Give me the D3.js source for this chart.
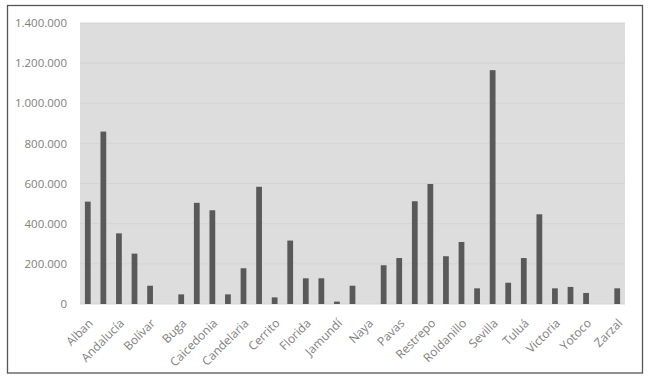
<!DOCTYPE html>
<html><head><meta charset="utf-8">
<script src="https://cdn.jsdelivr.net/npm/d3@7"></script>
<style>
html,body{margin:0;padding:0;background:#fff;}
svg{display:block;}
</style></head>
<body>
<script>
const categories = ["Alban","Alcalá","Andalucía","Ansermanuevo","Bolívar","Buenaventura","Buga","Bugalagrande","Caicedonia","Cali","Candelaria","Cartago","Cerrito","Dagua","Florida","Ginebra","Jamundí","La Cumbre","Naya","Palmira","Pavas","Pradera","Restrepo","Riofrío","Roldanillo","San Pedro","Sevilla","Trujillo","Tuluá","Versalles","Victoria","Vijes","Yotoco","Yumbo","Zarzal"];
const values = [510000,859000,352000,251000,91000,0,48000,504000,467000,48000,178000,584000,33000,316000,128000,128000,12000,91000,0,193000,229000,512000,598000,238000,309000,78000,1165000,106000,229000,447000,78000,85000,55000,0,78000];
const yTicks = [0,200000,400000,600000,800000,1000000,1200000,1400000];

(function(){
const W=650,H=382;
const svg=d3.select("body").append("svg").attr("width",W).attr("height",H);
svg.append("rect").attr("x",7.5).attr("y",5.5).attr("width",635).attr("height",367.5)
  .attr("fill","#fff").attr("stroke","#5a5452").attr("stroke-width",1.3);

const pL=80,pR=625,pT=23,pB=304;
const x=d3.scaleBand().domain(categories).range([pL,pR]).paddingInner(0.63).paddingOuter(0.315);
const y=d3.scaleLinear().domain([0,1400000]).range([pB,pT]);

svg.append("rect").attr("x",pL).attr("y",pT).attr("width",pR-pL).attr("height",pB-pT).attr("fill","#dcdddc");

svg.append("g").selectAll("line").data(yTicks).join("line")
  .attr("x1",pL).attr("x2",pR).attr("y1",d=>y(d)).attr("y2",d=>y(d))
  .attr("stroke","#d3d4d3").attr("stroke-width",1);

const fmt=d=>d3.format(",")(d).replace(/,/g,".");
const yAxis=svg.append("g").attr("transform",`translate(${pL-13},0)`)
  .call(d3.axisLeft(y).tickValues(yTicks).tickFormat(fmt).tickSize(0).tickPadding(0));
yAxis.select(".domain").remove();
yAxis.selectAll("text").attr("font-family","Open Sans").attr("font-size","11.5px").attr("fill","#808080");

svg.append("g").selectAll("rect").data(values).join("rect")
  .attr("x",(d,i)=>x(categories[i])).attr("width",x.bandwidth())
  .attr("y",d=>y(d)).attr("height",d=>pB-y(d)).attr("fill","#595959");

const xAxis=svg.append("g").attr("transform",`translate(0,${pB})`)
  .call(d3.axisBottom(x).tickValues(categories.filter((c,i)=>i%2===0)).tickSize(0).tickPadding(0));
xAxis.select(".domain").remove();
xAxis.selectAll("text").attr("font-family","Open Sans").attr("font-size","12px").attr("fill","#808080")
  .attr("text-anchor","end").attr("dy","0.35em").attr("y",0).attr("x",0)
  .attr("transform","translate(3,17) rotate(-45)");
})();
</script>
</body></html>
